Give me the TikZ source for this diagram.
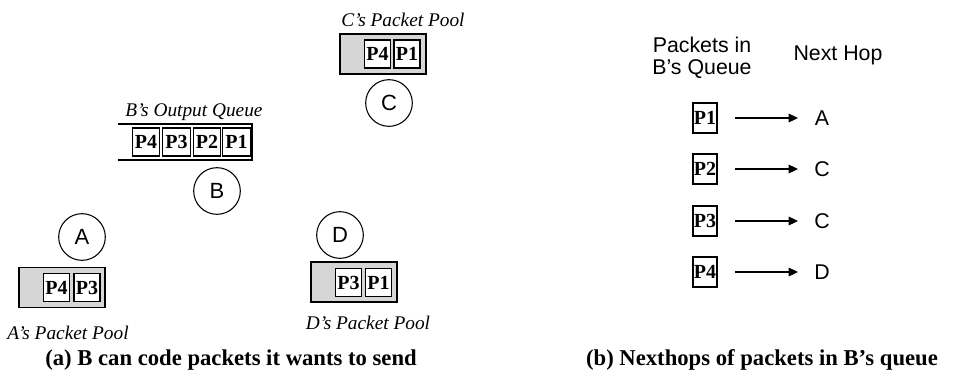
\documentclass[tikz,border=0pt]{standalone}
\usepackage{fontspec}
\setmainfont{Liberation Serif}
\newfontfamily\arialfont{Liberation Sans}
\usetikzlibrary{positioning}
\usetikzlibrary{arrows.meta}

\tikzset{
  pkt/.style={draw, fill=white, line width=0.8pt, minimum width=19.5pt, minimum height=21pt,
    inner sep=0pt, font=\fontsize{15}{15}\selectfont\bfseries},
  pool/.style={draw, fill=black!16, line width=1pt, minimum width=64.5pt, minimum height=30pt, inner sep=0pt},
  host/.style={draw, circle, line width=0.8pt, minimum size=35pt, inner sep=0pt,
    font=\arialfont\fontsize{16.5}{16.5}\selectfont},
  poollabel/.style={font=\fontsize{14.5}{14.5}\selectfont\itshape},
  hdr/.style={align=center, font=\arialfont\fontsize{16}{16.5}\selectfont},
  caption/.style={font=\fontsize{17}{17}\selectfont\bfseries},
}

\begin{document}
\begin{tikzpicture}[x=0.75pt, y=-0.75pt]
\useasboundingbox (0,0) rectangle (954,372);
% node C and its pool
\node[poollabel] (cLab) at (403,20) {C’s Packet Pool};
\node[pool] (cPool) at (383,54) {};
\node[pkt] (cP4) at (377.5,54) {P4};
\node[pkt] (cP1) at (407,54) {P1};
\node[host] (C) at (389,103) {C};
% node B and its output queue
\node[poollabel] (bLab) at (194,112) {B’s Output Queue};
\coordinate (qTL) at (118,124);
\coordinate (qTR) at (252,124);
\coordinate (qBR) at (252,160);
\coordinate (qBL) at (118,160);
\draw[line width=1pt] (qTL) -- (qTR) -- (qBR) -- (qBL);
\node[pkt, minimum width=20.5pt] (bP4) at (146,142) {P4};
\node[pkt, minimum width=20.5pt] (bP3) at (176.5,142) {P3};
\node[pkt, minimum width=20.5pt] (bP2) at (207,142) {P2};
\node[pkt, minimum width=20.5pt] (bP1) at (236.5,142) {P1};
\node[host] (B) at (217,191) {B};
% node A and its pool
\node[host] (A) at (82,237) {A};
\node[pool] (aPool) at (62,287.5) {};
\node[pkt] (aP4) at (56.5,287.5) {P4};
\node[pkt] (aP3) at (87,287.5) {P3};
\node[poollabel] (aLab) at (68,333) {A’s Packet Pool};
% node D and its pool
\node[host] (D) at (340,235) {D};
\node[pool] (dPool) at (354,282) {};
\node[pkt] (dP3) at (348.5,282.5) {P3};
\node[pkt] (dP1) at (378.5,282.5) {P1};
\node[poollabel] (dLab) at (368,323) {D’s Packet Pool};
% (b) next hops
\node[hdr] (hdrPkt) at (702,58) {Packets in\\B’s Queue};
\node[hdr] (hdrHop) at (838,55) {Next Hop};
\foreach \p/\h/\y in {P1/A/118, P2/C/169, P3/C/221, P4/D/272}{
  \node[pkt, minimum width=18pt, minimum height=22.5pt] (r\p) at (705,\y) {\p};
  \node[hdr] (h\p) at (822,\y) {\h};
  \coordinate (s\p) at (735,\y);
  \coordinate (e\p) at (798,\y);
  \draw[line width=0.8pt, -{Triangle[length=7pt,width=6.5pt]}] (s\p) -- (e\p);
}
% captions
\node[caption] (capA) at (231,360) {(a) B can code packets it wants to send};
\node[caption] (capB) at (762,360) {(b) Nexthops of packets in B’s queue};
\end{tikzpicture}
\end{document}
